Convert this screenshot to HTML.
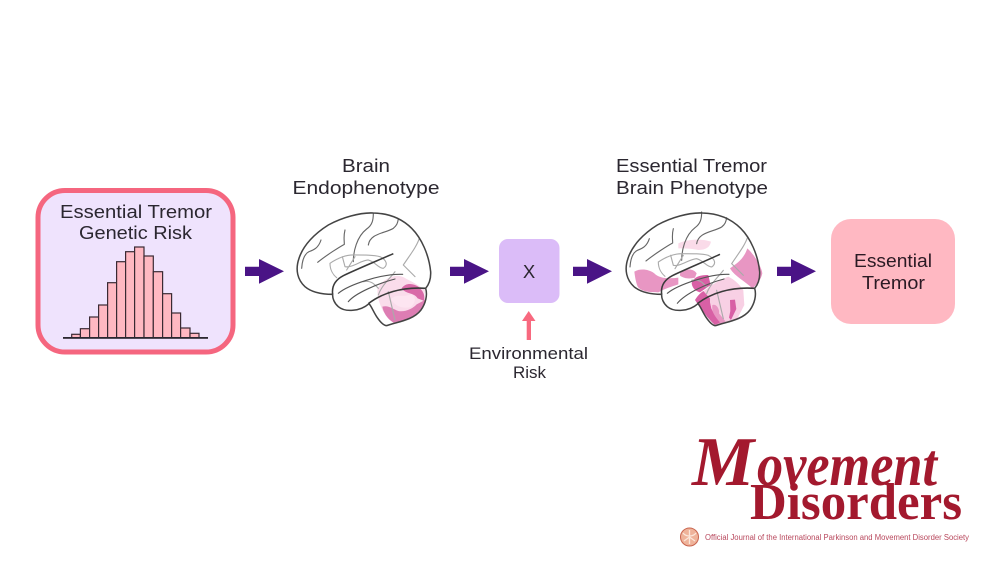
<!DOCTYPE html>
<html><head><meta charset="utf-8"><style>
html,body{margin:0;padding:0;background:#fff;width:1000px;height:563px;overflow:hidden}
svg{display:block}
text{font-family:"Liberation Sans",sans-serif;fill:#2b2730}
</style></head><body>
<svg width="1000" height="563" viewBox="0 0 1000 563" xmlns="http://www.w3.org/2000/svg">
<rect width="1000" height="563" fill="#fff"/>
<defs>
<g id="brainlines" fill="none" stroke-linecap="round" stroke-linejoin="round">
<path d="M50 190 C52 160 62 145 72 140 C85 135 100 130 108 105 M98 172 C125 150 165 125 178 118 C178 105 175 95 180 75 M205 170 C205 140 215 95 245 72 C262 60 265 45 265 25 M250 120 C255 85 300 85 325 70 C335 62 338 55 340 42" stroke="#666" stroke-width="3.4"/>
<path d="M135 175 C150 165 175 150 205 150 C240 150 265 150 285 155 C305 165 310 180 295 190 C280 190 270 170 250 165 C230 165 200 190 180 185 L172 155 M135 175 C135 195 145 210 155 218 M210 155 L185 195 M355 180 L390 215 M355 180 C375 150 395 125 403 100 M330 200 C320 215 290 240 280 270 M235 230 C260 225 270 240 280 250 M310 260 L330 345" stroke="#aaa" stroke-width="3.4"/>
</g>
<path id="bo" d="M143 268 C110 268 80 262 60 245 C38 225 30 195 42 160 C55 120 90 85 130 60 C170 38 225 22 265 24 C310 25 350 40 380 70 C410 100 432 150 437 200 C438 220 432 238 422 250 C428 270 422 295 408 315 C385 345 340 350 305 362 C295 362 285 350 275 335 C265 320 260 305 252 296 C225 320 180 322 160 305 C148 295 142 280 143 268 Z"/>
</defs>

<!-- Genetic risk box -->
<rect x="38" y="190.5" width="195" height="161.5" rx="27" fill="#efe3fd" stroke="#f5667f" stroke-width="5"/>
<text x="60" y="218" font-size="18.5" textLength="152" lengthAdjust="spacingAndGlyphs">Essential Tremor</text>
<text x="79" y="239" font-size="18.5" textLength="113" lengthAdjust="spacingAndGlyphs">Genetic Risk</text>
<g fill="#ffb8c2" stroke="#3a2a33" stroke-width="1.2">
<rect x="71.7" y="334.3" width="8.7" height="3.4"/>
<rect x="80.4" y="328.7" width="9.2" height="9"/>
<rect x="89.6" y="317" width="9" height="20.7"/>
<rect x="98.6" y="305" width="9" height="32.7"/>
<rect x="107.6" y="282.7" width="9" height="55"/>
<rect x="116.6" y="261.7" width="9" height="76"/>
<rect x="125.6" y="251.7" width="9" height="86"/>
<rect x="134.6" y="247" width="9.4" height="90.7"/>
<rect x="144" y="256" width="9.3" height="81.7"/>
<rect x="153.3" y="271.7" width="9.3" height="66"/>
<rect x="162.6" y="293.7" width="9" height="44"/>
<rect x="171.6" y="313" width="9" height="24.7"/>
<rect x="180.6" y="328" width="9.4" height="9.7"/>
<rect x="190" y="333.3" width="9" height="4.4"/>
</g>
<rect x="63" y="337" width="145" height="1.8" fill="#2b2730"/>

<!-- Arrows -->
<g fill="#4a1486">
<path d="M245 266.7H259V259L284 271.3L259 283.7V276H245Z"/>
<path d="M450 266.7H464V259L489 271.3L464 283.7V276H450Z"/>
<path d="M573 266.7H587V259L612 271.3L587 283.7V276H573Z"/>
<path d="M777 266.7H791V259L816 271.3L791 283.7V276H777Z"/>
</g>

<!-- Brain 1 -->
<text x="342" y="172" font-size="18.5" textLength="48" lengthAdjust="spacingAndGlyphs">Brain</text>
<text x="292.5" y="194" font-size="18.5" textLength="147" lengthAdjust="spacingAndGlyphs">Endophenotype</text>
<g transform="translate(285 205) scale(.3333)">
<use href="#bo" fill="#fff"/>
<path d="M278 250 C295 220 335 200 365 222 C385 232 400 240 420 255 L415 310 L330 352 L295 320 C285 300 275 275 278 250Z" fill="#fadceb"/>
<path d="M292 305 C310 300 320 310 340 318 C360 322 385 310 395 298 L420 285 C415 320 375 345 325 353 C305 340 295 322 292 305Z" fill="#dd7db3"/>
<path d="M350 250 C362 232 385 235 400 245 C415 258 420 270 418 288 L398 280 C388 262 362 268 350 250Z" fill="#d96aa8"/>
<path d="M318 282 C335 265 355 278 378 268 C392 272 395 290 378 306 C355 312 330 305 318 282Z" fill="#fde5f1"/>
<use href="#brainlines"/>
<path d="M190 290 C210 265 280 235 330 222 M160 265 C190 240 290 205 353 208" fill="none" stroke="#555" stroke-width="3.4" stroke-linecap="round"/>
<path d="M143 268 C140 245 150 225 175 212 C210 195 270 170 325 146 M250 296 C290 265 350 245 422 250" fill="none" stroke="#3a3a3a" stroke-width="4.6"/>
<use href="#bo" fill="none" stroke="#444" stroke-width="4.6"/>
</g>

<!-- X box -->
<rect x="499" y="239" width="60.5" height="64" rx="9" fill="#dbbcf8"/>
<text x="529" y="278" text-anchor="middle" font-size="18.5">X</text>
<path d="M526.7 340V321H522L528.7 311L535.5 321H531V340Z" fill="#f8697f"/>
<text x="469" y="359" font-size="17" textLength="119" lengthAdjust="spacingAndGlyphs">Environmental</text>
<text x="513" y="378" font-size="17" textLength="33" lengthAdjust="spacingAndGlyphs">Risk</text>

<!-- Brain 2 -->
<text x="616" y="172" font-size="18.5" textLength="151" lengthAdjust="spacingAndGlyphs">Essential Tremor</text>
<text x="616" y="194" font-size="18.5" textLength="152" lengthAdjust="spacingAndGlyphs">Brain Phenotype</text>
<g transform="translate(615 205) scale(.3333)">
<path d="M190 115 C225 100 265 102 288 110 C285 125 275 135 250 135 C230 130 205 130 190 130Z" fill="#fadbe9"/>
<path d="M58 200 C75 190 100 192 118 205 C132 220 160 222 190 218 L190 238 C170 245 150 250 130 262 C105 262 78 260 68 245 C62 230 60 215 58 200Z" fill="#e896c3"/>
<path d="M345 190 C365 175 385 165 397 130 C415 145 440 185 442 205 C438 225 425 240 412 250 C390 228 360 215 345 190Z" fill="#e896c3"/>
<path d="M195 205 C210 192 232 188 245 205 L240 218 C225 222 208 222 195 212Z" fill="#e896c3"/>
<path d="M250 272 C275 250 310 225 340 215 C360 225 375 240 385 256 L388 300 L365 345 L320 356 L285 300Z" fill="#f8d0e4"/>
<path d="M292 300 C305 295 315 315 312 325 L332 350 L305 360 C295 340 290 320 292 300Z" fill="#e896c3"/>
<path d="M230 235 C235 218 250 210 280 210 L287 240 L255 262 C240 258 232 248 230 235Z" fill="#d860a5"/>
<path d="M240 285 C248 272 255 265 265 258 L285 280 L285 292 C290 320 300 335 315 352 L300 360 C285 348 260 315 250 300Z" fill="#d860a5"/>
<path d="M345 285 L360 284 L364 312 L348 345 L342 338 L346 318Z" fill="#d860a5"/>
</g>
<g transform="translate(614 205) scale(.3333)">
<use href="#brainlines" transform="translate(-2 -4)"/>
<path d="M190 295 C215 265 280 235 330 222 M160 265 C190 240 290 205 345 208" fill="none" stroke="#555" stroke-width="3.4" stroke-linecap="round"/>
<path d="M143 268 C140 245 150 225 175 212 C210 195 270 170 318 148 M250 296 C290 265 350 245 422 250" fill="none" stroke="#3a3a3a" stroke-width="4.6"/>
<use href="#bo" fill="none" stroke="#444" stroke-width="4.6"/>
</g>

<!-- Final box -->
<rect x="831" y="219" width="124" height="105" rx="20" fill="#ffb8c2"/>
<text x="854" y="267" font-size="18.5" textLength="78" lengthAdjust="spacingAndGlyphs" style="fill:#2b1a24">Essential</text>
<text x="862" y="289" font-size="18.5" textLength="63" lengthAdjust="spacingAndGlyphs" style="fill:#2b1a24">Tremor</text>

<!-- Logo -->
<g font-weight="bold">
<text x="692" y="485" font-size="70" font-style="italic" style="font-family:'Liberation Serif',serif;fill:#a3192e">M</text>
<text x="757" y="485" font-size="60" font-style="italic" textLength="180" lengthAdjust="spacingAndGlyphs" style="font-family:'Liberation Serif',serif;fill:#a3192e">ovement</text>
<text x="750" y="519" font-size="52" textLength="212" lengthAdjust="spacingAndGlyphs" style="font-family:'Liberation Serif',serif;fill:#a3192e">Disorders</text>
</g>
<circle cx="689.5" cy="537" r="9" fill="#efb39a" stroke="#c9654f" stroke-width="1"/>
<path d="M689.5 530V544M683 533C686 537 693 537 696 533M684 541L689.5 537L695 541" fill="none" stroke="#fbe6da" stroke-width="1.3"/>
<text x="705" y="540" font-size="8" textLength="264" lengthAdjust="spacingAndGlyphs" style="fill:#b8475c">Official Journal of the International Parkinson and Movement Disorder Society</text>
</svg>
</body></html>
